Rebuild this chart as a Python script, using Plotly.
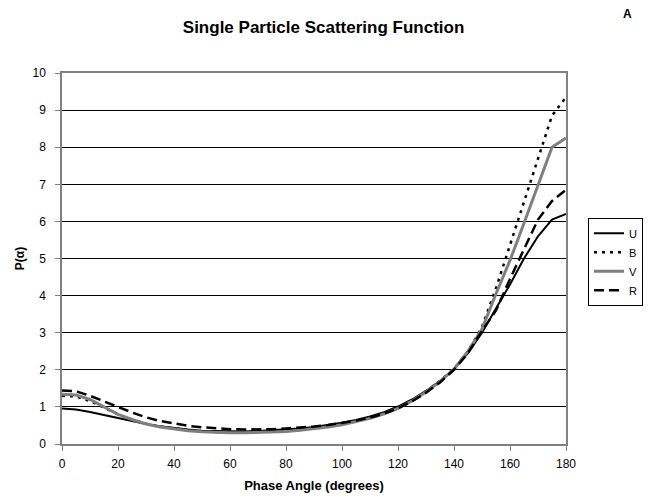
import plotly.graph_objects as go

phase = list(range(0, 181, 5))
U = [0.96, 0.93, 0.86, 0.78, 0.69, 0.61, 0.54, 0.48, 0.43, 0.39, 0.36, 0.35, 0.34, 0.34, 0.35, 0.37, 0.39, 0.42, 0.46, 0.51, 0.57, 0.65, 0.74, 0.86, 1.01, 1.20, 1.43, 1.70, 2.02, 2.45, 3.00, 3.65, 4.30, 5.00, 5.60, 6.05, 6.20]
B = [1.30, 1.28, 1.16, 0.98, 0.80, 0.66, 0.55, 0.47, 0.41, 0.37, 0.34, 0.32, 0.31, 0.31, 0.32, 0.33, 0.35, 0.38, 0.42, 0.47, 0.53, 0.61, 0.70, 0.82, 0.97, 1.17, 1.42, 1.70, 2.03, 2.50, 3.15, 4.20, 5.35, 6.50, 7.70, 8.85, 9.35]
V = [1.34, 1.32, 1.20, 1.00, 0.80, 0.66, 0.54, 0.46, 0.40, 0.36, 0.33, 0.31, 0.30, 0.30, 0.31, 0.32, 0.34, 0.37, 0.41, 0.46, 0.52, 0.60, 0.69, 0.81, 0.96, 1.16, 1.40, 1.68, 2.02, 2.50, 3.10, 4.05, 4.95, 5.95, 7.00, 8.00, 8.25]
R = [1.44, 1.42, 1.30, 1.16, 1.00, 0.85, 0.72, 0.62, 0.55, 0.49, 0.45, 0.42, 0.40, 0.39, 0.39, 0.40, 0.42, 0.44, 0.47, 0.51, 0.56, 0.63, 0.71, 0.82, 0.96, 1.15, 1.38, 1.66, 2.00, 2.45, 3.05, 3.60, 4.45, 5.25, 6.05, 6.55, 6.85]

series = [
    ("U", U, dict(color="black", width=2, dash="solid")),
    ("B", B, dict(color="black", width=2.5, dash="3px,5px")),
    ("V", V, dict(color="#7f7f7f", width=3, dash="solid")),
    ("R", R, dict(color="black", width=2.5, dash="10px,5px")),
]

fig = go.Figure()
for name, vals, line in series:
    fig.add_trace(go.Scatter(x=phase, y=vals, mode="lines", name=name, line=line))

font = "Liberation Sans, Arial, sans-serif"
# page body has an 8px margin, so the figure is drawn 8px smaller
fig.update_layout(
    width=643, height=489,
    margin=dict(l=54, r=85, t=65, b=53),
    paper_bgcolor="white", plot_bgcolor="white",
    font=dict(family=font, size=12, color="black"),
    title=dict(text="<b>Single Particle Scattering Function</b>", x=0.519, xref="paper", xanchor="center",
               y=0.961, yanchor="middle", font=dict(size=17, family=font, color="black")),
    showlegend=True,
    legend=dict(x=0.902, y=0.571, xref="container", yref="container", xanchor="left", yanchor="top",
                bordercolor="black", borderwidth=1,
                bgcolor="white", font=dict(size=11, family=font), tracegroupgap=0,
                itemwidth=30),
    annotations=[dict(text="<b>A</b>", x=1.123, y=1.158, xref="paper", yref="paper",
                      xanchor="center", yanchor="middle", showarrow=False,
                      font=dict(size=12, family=font, color="black"))],
)
fig.update_xaxes(range=[0, 180], tickvals=list(range(0, 181, 20)), ticks="outside", ticklen=5,
                 tickcolor="#808080", showgrid=False, zeroline=False, showline=True,
                 linecolor="#808080", linewidth=1.5, mirror=True, ticklabelstandoff=3, automargin=False,
                 title=dict(text="<b>Phase Angle (degrees)</b>", font=dict(size=13, family=font), standoff=11),
                 tickfont=dict(size=12, family=font))
fig.update_yaxes(range=[0, 10], tickvals=list(range(0, 11)), ticks="outside", ticklen=5,
                 tickcolor="#808080", showgrid=True, gridcolor="black", gridwidth=1, zeroline=False,
                 showline=True, linecolor="#808080", linewidth=1.5, mirror=True, ticklabelstandoff=7,
                 automargin=False,
                 title=dict(text="<b>P(α)</b>", font=dict(size=12, family=font), standoff=5),
                 tickfont=dict(size=12, family=font))
fig.write_html("out.html")
